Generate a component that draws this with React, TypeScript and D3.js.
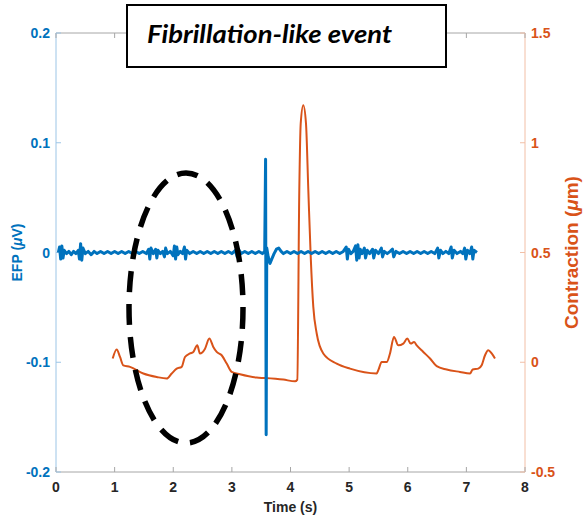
import React from "react";
import * as d3 from "d3";

const xTicks = [0, 1, 2, 3, 4, 5, 6, 7, 8];
const efpTicks = [-0.2, -0.1, 0, 0.1, 0.2];
const conTicks = [-0.5, 0, 0.5, 1, 1.5];

// EFP trace: [time (s), EFP (µV)]
const efpPoints: [number, number][] = [
  [0.04, 0.0], [0.06, 0.005], [0.08, -0.006], [0.1, 0.006], [0.12, -0.005], [0.14, 0.002],
  [0.18, -0.001], [0.22, 0.001], [0.26, -0.002], [0.3, 0.001], [0.34, -0.001], [0.38, 0.002],
  [0.4, -0.006], [0.42, 0.008], [0.44, -0.007], [0.46, 0.004], [0.5, -0.001], [0.55, 0.001],
  [0.6, -0.002], [0.65, 0.001], [0.7, -0.001], [0.76, 0.001], [0.82, -0.001], [0.88, 0.001],
  [0.94, -0.001], [1.0, 0.001], [1.06, -0.001], [1.12, 0.001], [1.18, -0.001], [1.24, 0.001],
  [1.3, -0.001], [1.36, 0.001], [1.42, -0.001], [1.48, 0.001], [1.54, -0.001], [1.58, 0.003],
  [1.6, -0.006], [1.62, 0.004], [1.66, -0.001], [1.7, 0.003], [1.72, -0.005], [1.74, 0.002],
  [1.78, -0.001], [1.82, 0.001], [1.85, -0.004], [1.87, 0.004], [1.9, -0.001], [1.95, 0.001],
  [2.0, -0.003], [2.02, 0.006], [2.04, -0.006], [2.06, 0.005], [2.08, -0.002], [2.12, 0.001],
  [2.16, -0.001], [2.19, 0.005], [2.21, -0.006], [2.23, 0.002], [2.28, -0.001], [2.34, 0.001],
  [2.4, -0.001], [2.46, 0.001], [2.52, -0.001], [2.58, 0.001], [2.64, -0.001], [2.7, 0.001],
  [2.76, -0.001], [2.82, 0.001], [2.88, -0.001], [2.94, 0.001], [3.0, -0.001], [3.06, 0.002],
  [3.09, -0.004], [3.11, 0.003], [3.16, -0.001], [3.22, 0.001], [3.28, -0.001], [3.34, 0.001],
  [3.4, -0.001], [3.46, 0.001], [3.52, -0.001], [3.56, 0.001], [3.575, 0.085], [3.585, -0.166],
  [3.595, 0.004], [3.62, -0.004], [3.65, -0.01], [3.68, -0.006], [3.72, -0.001], [3.76, 0.003],
  [3.8, 0.004], [3.84, 0.001], [3.88, -0.001], [3.94, 0.001], [4.0, -0.001], [4.06, 0.001],
  [4.12, -0.001], [4.18, 0.001], [4.24, -0.001], [4.3, 0.001], [4.36, -0.001], [4.42, 0.001],
  [4.48, -0.001], [4.54, 0.001], [4.6, -0.001], [4.66, 0.001], [4.72, -0.001], [4.78, 0.001],
  [4.84, -0.001], [4.9, 0.001], [4.95, 0.005], [4.97, -0.006], [4.99, 0.003], [5.03, -0.001],
  [5.07, 0.001], [5.11, 0.006], [5.13, -0.007], [5.15, 0.007], [5.17, -0.005], [5.19, 0.003],
  [5.22, -0.001], [5.26, 0.004], [5.28, -0.005], [5.31, 0.002], [5.35, -0.001], [5.4, 0.003],
  [5.42, -0.005], [5.45, 0.002], [5.5, -0.001], [5.55, 0.004], [5.57, -0.004], [5.6, 0.001],
  [5.65, -0.001], [5.7, 0.001], [5.74, 0.003], [5.76, -0.004], [5.8, 0.001], [5.86, -0.001],
  [5.92, 0.001], [5.98, -0.001], [6.04, 0.001], [6.1, -0.001], [6.16, 0.001], [6.22, -0.001],
  [6.28, 0.001], [6.34, -0.001], [6.4, 0.001], [6.46, -0.001], [6.51, 0.004], [6.53, -0.005],
  [6.56, 0.002], [6.6, -0.001], [6.65, 0.001], [6.7, -0.001], [6.74, 0.005], [6.76, -0.005],
  [6.79, 0.002], [6.84, -0.001], [6.9, 0.001], [6.94, -0.001], [6.97, 0.004], [6.99, -0.006],
  [7.02, 0.002], [7.06, -0.001], [7.09, 0.005], [7.11, -0.006], [7.13, 0.002], [7.18, 0.0],
];

// Contraction trace: [time (s), contraction (µm)]
const contractionPoints: [number, number][] = [
  [0.967, 0.017], [1.035, 0.058], [1.092, 0.024], [1.148, -0.014], [1.262, -0.021],
  [1.489, -0.051], [1.718, -0.067], [1.888, -0.074], [1.974, -0.051], [2.059, -0.029],
  [2.144, -0.021], [2.2, 0.024], [2.286, 0.04], [2.342, 0.047], [2.41, 0.077],
  [2.456, 0.04], [2.542, 0.062], [2.615, 0.108], [2.683, 0.07], [2.741, 0.047],
  [2.826, 0.032], [2.912, -0.006], [2.997, -0.044], [3.139, -0.055], [3.423, -0.07],
  [3.565, -0.072], [3.877, -0.079], [4.077, -0.087], [4.116, -0.079], [4.15, 0.784],
  [4.174, 1.087], [4.218, 1.171], [4.264, 1.089], [4.304, 0.784], [4.345, 0.48],
  [4.389, 0.252], [4.447, 0.131], [4.559, 0.04], [4.788, -0.006], [5.015, -0.029],
  [5.47, -0.051], [5.498, -0.036], [5.556, 0.001], [5.641, 0.001], [5.697, 0.04],
  [5.765, 0.115], [5.839, 0.077], [5.924, 0.085], [5.992, 0.108], [6.05, 0.085],
  [6.107, 0.092], [6.153, 0.077], [6.265, 0.047], [6.38, 0.017], [6.494, -0.018],
  [6.664, -0.033], [6.891, -0.044], [7.062, -0.051], [7.108, -0.033], [7.203, -0.029],
  [7.261, -0.014], [7.318, 0.032], [7.374, 0.055], [7.432, 0.04], [7.488, 0.017],
];

const BLUE = "#0072BD";
const ORANGE = "#D95319";

export default function App() {
  const W = 585, H = 517;
  const left = 56, right = 525, top = 33, bottom = 472;
  const x = d3.scaleLinear().domain([0, 8]).range([left, right]);
  const yL = d3.scaleLinear().domain([-0.2, 0.2]).range([bottom, top]);
  const yR = d3.scaleLinear().domain([-0.5, 1.5]).range([bottom, top]);

  const efpLine = d3.line<[number, number]>().x(d => x(d[0])).y(d => yL(d[1]));
  const conLine = d3
    .line<[number, number]>()
    .x(d => x(d[0]))
    .y(d => yR(d[1]))
    .curve(d3.curveMonotoneX);

  const font = "'Liberation Sans', Arial, sans-serif";
  const tickLen = 5;

  return (
    <svg
      width={W}
      height={H}
      style={{ position: "absolute", left: 0, top: 0, background: "#fff" }}
      fontFamily={font}
    >
      <rect x={0} y={0} width={W} height={H} fill="#fff" />
      {/* box lines */}
      <line x1={left} x2={right} y1={top} y2={top} stroke="#a6a6a6" strokeWidth={1} />
      <line x1={left} x2={right} y1={bottom} y2={bottom} stroke="#a6a6a6" strokeWidth={1} />
      <line x1={left} x2={left} y1={top} y2={bottom} stroke="#9cc5e6" strokeWidth={1} />
      <line x1={right} x2={right} y1={top} y2={bottom} stroke="#f2bfa6" strokeWidth={1} />

      {/* x ticks */}
      {xTicks.map(t => (
        <g key={"xt" + t}>
          <line x1={x(t)} x2={x(t)} y1={bottom} y2={bottom - tickLen} stroke="#a6a6a6" />
          <line x1={x(t)} x2={x(t)} y1={top} y2={top + tickLen} stroke="#a6a6a6" />
          <text
            x={x(t)}
            y={bottom + 20}
            textAnchor="middle"
            fontSize={14}
            fontWeight="bold"
            fill="#262626"
          >
            {t}
          </text>
        </g>
      ))}
      <text x={(left + right) / 2} y={bottom + 40} textAnchor="middle" fontSize={14} fontWeight="bold" fill="#262626">
        Time (s)
      </text>

      {/* left ticks */}
      {efpTicks.map(t => (
        <g key={"yl" + t}>
          <line x1={left} x2={left + tickLen} y1={yL(t)} y2={yL(t)} stroke="#9cc5e6" />
          <text x={left - 6} y={yL(t) + 5} textAnchor="end" fontSize={14} fontWeight="bold" fill={BLUE}>
            {t === 0 ? "0" : String(t)}
          </text>
        </g>
      ))}
      {/* right ticks */}
      {conTicks.map(t => (
        <g key={"yr" + t}>
          <line x1={right} x2={right - tickLen} y1={yR(t)} y2={yR(t)} stroke="#f2bfa6" />
          <text x={right + 6} y={yR(t) + 5} textAnchor="start" fontSize={14} fontWeight="bold" fill={ORANGE}>
            {String(t)}
          </text>
        </g>
      ))}

      {/* axis labels */}
      <text
        transform={`translate(22, ${(top + bottom) / 2}) rotate(-90)`}
        textAnchor="middle"
        fontSize={14}
        fontWeight="bold"
        fill={BLUE}
      >
        EFP (<tspan fontStyle="italic">μ</tspan>V)
      </text>
      <text
        transform={`translate(578, ${(top + bottom) / 2}) rotate(-90)`}
        textAnchor="middle"
        fontSize={19}
        fontWeight="bold"
        fill={ORANGE}
      >
        Contraction (<tspan fontStyle="italic">μ</tspan>m)
      </text>

      {/* data */}
      <path d={conLine(contractionPoints) || ""} fill="none" stroke={ORANGE} strokeWidth={2} strokeLinejoin="round" />
      <path d={efpLine(efpPoints) || ""} fill="none" stroke={BLUE} strokeWidth={3} strokeLinejoin="round" />

      {/* dashed ellipse annotation */}
      <ellipse cx={186} cy={308} rx={57} ry={135} fill="none" stroke="#000" strokeWidth={5.5} strokeDasharray="21 12" />

      {/* title box */}
      <rect x={127} y={5} width={319} height={62} fill="#fff" stroke="#000" strokeWidth={2} />
      <text
        x={147}
        y={43}
        fontSize={24}
        fontWeight="bold"
        fontStyle="italic"
        fill="#000"
        fontFamily="Lato, 'Open Sans', sans-serif"
        textLength={245}
        lengthAdjust="spacingAndGlyphs"
      >
        Fibrillation-like event
      </text>
    </svg>
  );
}
